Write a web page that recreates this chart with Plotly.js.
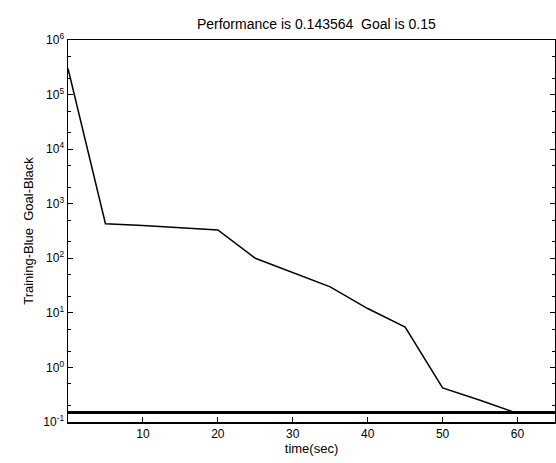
<!DOCTYPE html>
<html>
<head>
<meta charset="utf-8">
<script src="https://cdn.plot.ly/plotly-3.0.1.min.js"></script>
<style>html,body{margin:0;padding:0;background:#fff;}#chart{width:556px;height:463px;}</style>
</head>
<body>
<div id="chart"></div>
<script>
var epochs = [0, 5, 10, 15, 20, 25, 30, 35, 40, 45, 50, 55, 60];
var performance = [300000, 430, 400, 365, 330, 100, 55, 30, 12, 5.5, 0.42, 0.25, 0.143564];
var goalX = [0, 65];
var goalY = [0.15, 0.15];
var yTickVals = [0.1, 1, 10, 100, 1000, 10000, 100000, 1000000];
var yTickText = ['10<sup>-1</sup>', '10<sup>0</sup>', '10<sup>1</sup>', '10<sup>2</sup>', '10<sup>3</sup>', '10<sup>4</sup>', '10<sup>5</sup>', '10<sup>6</sup>'];
var xTickVals = [10, 20, 30, 40, 50, 60];

var traces = [
  {x: goalX, y: goalY, mode: 'lines', line: {color: '#000', width: 3}, hoverinfo: 'skip'},
  {x: epochs, y: performance, mode: 'lines', line: {color: '#000', width: 1.5}}
];
var layout = {
  width: 556, height: 463,
  margin: {l: 68, r: 1, t: 40, b: 41},
  paper_bgcolor: '#fff', plot_bgcolor: '#fff',
  showlegend: false,
  font: {family: 'Liberation Sans, Arial, sans-serif', color: '#000', size: 12},
  title: {text: 'Performance is 0.143564  Goal is 0.15', x: 0.51, xref: 'paper', xanchor: 'center', y: 0.958, yref: 'container', font: {size: 14}},
  xaxis: {
    range: [0, 65], tickvals: xTickVals, ticks: 'inside', ticklen: 5, tickcolor: '#000',
    showline: true, linecolor: '#000', linewidth: 1.5, mirror: true, showgrid: false, zeroline: false,
    tickfont: {size: 12},
    title: {text: 'time(sec)', font: {size: 13}, standoff: 4}
  },
  yaxis: {
    type: 'log', range: [-1, 6], tickvals: yTickVals, ticktext: yTickText,
    ticks: 'inside', ticklen: 5, tickcolor: '#000',
    minor: {ticks: 'inside', ticklen: 3, tickcolor: '#000', showgrid: false},
    showline: true, linecolor: '#000', linewidth: 1.5, mirror: 'ticks', showgrid: false, zeroline: false,
    tickfont: {size: 12},
    title: {text: 'Training-Blue  Goal-Black', font: {size: 13}, standoff: 6}
  }
};
Plotly.newPlot('chart', traces, layout, {staticPlot: true});
</script>
</body>
</html>
